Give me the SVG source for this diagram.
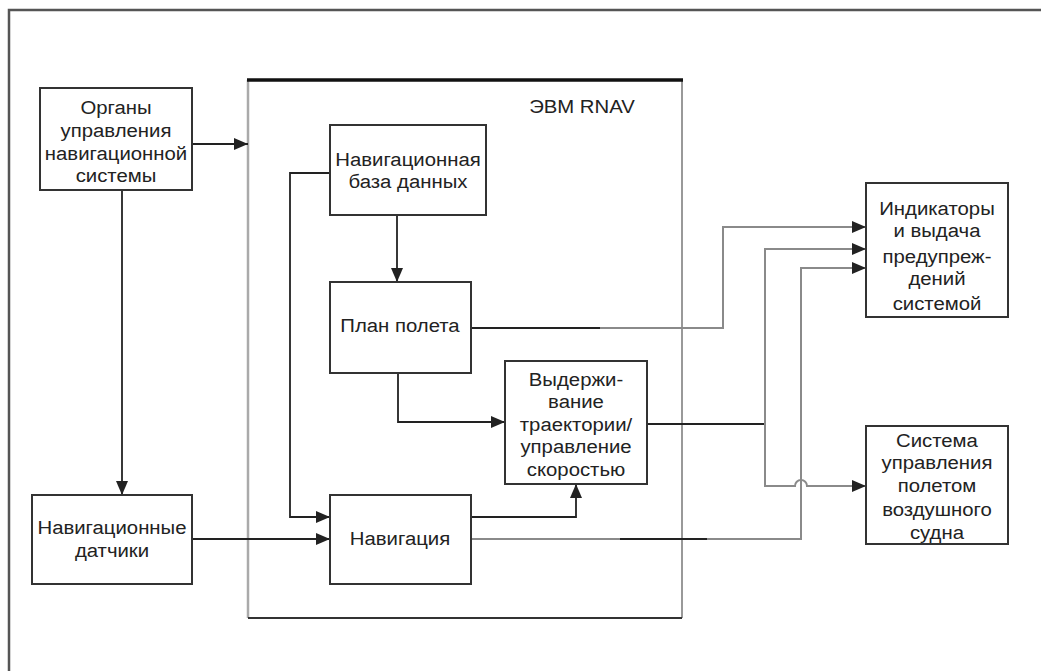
<svg xmlns="http://www.w3.org/2000/svg" width="1041" height="671" viewBox="0 0 1041 671">
<style>
  text { font-family: "Liberation Sans", Arial, sans-serif; font-size: 18px; fill: #222; text-anchor: middle; transform-box: fill-box; transform-origin: center; transform: scaleX(1.13); }
  .box { fill: #fff; stroke: #333; stroke-width: 2; }
  .ln { fill: none; stroke: #222; stroke-width: 1.8; }
  .gr { fill: none; stroke: #8a8a8a; stroke-width: 2; }
</style>
<defs>
  <marker id="ah" viewBox="0 0 14 12" refX="14" refY="6" markerWidth="14" markerHeight="12" markerUnits="userSpaceOnUse" orient="auto">
    <path d="M0,0 L14,6 L0,12 z" fill="#222"/>
  </marker>
</defs>
<rect width="1041" height="671" fill="#fff"/>
<g id="frame">
  <path d="M9,700 L9,10 L1060,10" fill="none" stroke="#555" stroke-width="2.5"/>
</g>
<g id="rnav">
  <path d="M248,618 L248,80" fill="none" stroke="#aaa" stroke-width="2.5"/>
  <path d="M682,80 L682,618" fill="none" stroke="#999" stroke-width="2"/>
  <path d="M248,618 L682,618" fill="none" stroke="#333" stroke-width="2"/>
  <path d="M247,80 L683,80" fill="none" stroke="#111" stroke-width="3.5"/>
  <text x="582" y="113">ЭВМ RNAV</text>
</g>
<g id="connectors">
  <path class="ln" d="M192,144 L248,144" marker-end="url(#ah)"/>
  <path class="ln" d="M122,190 L122,495" marker-end="url(#ah)"/>
  <path class="ln" d="M192,539 L330,539" marker-end="url(#ah)"/>
  <path class="ln" d="M330,173 L290,173 L290,517 L330,517" marker-end="url(#ah)"/>
  <path class="ln" d="M397,215 L397,282" marker-end="url(#ah)"/>
  <path class="ln" d="M398,373 L398,422 L505,422" marker-end="url(#ah)"/>
  <path class="ln" d="M471,517 L576,517 L576,484" marker-end="url(#ah)"/>
  <path class="ln" d="M471,328 L600,328"/>
  <path class="gr" d="M600,328 L723,328 L723,227 L866,227" marker-end="url(#ah)"/>
  <path class="ln" d="M647,424 L765,424"/>
  <path class="gr" d="M765,424 L765,249 L866,249" marker-end="url(#ah)"/>
  <path class="gr" d="M765,424 L765,486 L795,486 A6,6 0 0 1 807,486 L866,486" marker-end="url(#ah)"/>
  <path class="gr" d="M471,539 L620,539"/>
  <path class="ln" d="M620,539 L707,539"/>
  <path class="gr" d="M707,539 L801,539 L801,268 L866,268" marker-end="url(#ah)"/>
</g>
<g id="organy">
  <rect class="box" x="40" y="88" width="152" height="102"/>
  <text x="116" y="114">Органы</text>
  <text x="116" y="137">управления</text>
  <text x="116" y="160">навигационной</text>
  <text x="116" y="182">системы</text>
</g>
<g id="datchiki">
  <rect class="box" x="32" y="495" width="160" height="89"/>
  <text x="112" y="534">Навигационные</text>
  <text x="112" y="557">датчики</text>
</g>
<g id="navdb">
  <rect class="box" x="330" y="125" width="156" height="90"/>
  <text x="408" y="166">Навигационная</text>
  <text x="408" y="188">база данных</text>
</g>
<g id="plan">
  <rect class="box" x="330" y="282" width="141" height="91"/>
  <text x="400" y="332">План полета</text>
</g>
<g id="vyderzh">
  <rect class="box" x="505" y="361" width="142" height="123"/>
  <text x="576" y="386">Выдержи-</text>
  <text x="576" y="408">вание</text>
  <text x="576" y="431">траектории/</text>
  <text x="576" y="453">управление</text>
  <text x="576" y="476">скоростью</text>
</g>
<g id="navigacia">
  <rect class="box" x="330" y="495" width="141" height="89"/>
  <text x="400" y="545">Навигация</text>
</g>
<g id="indikatory">
  <rect class="box" x="866" y="183" width="142" height="134"/>
  <text x="937" y="215">Индикаторы</text>
  <text x="937" y="237">и выдача</text>
  <text x="937" y="263">предупреж-</text>
  <text x="937" y="285">дений</text>
  <text x="937" y="310">системой</text>
</g>
<g id="sistema">
  <rect class="box" x="866" y="426" width="142" height="118"/>
  <text x="937" y="447">Система</text>
  <text x="937" y="469">управления</text>
  <text x="937" y="492">полетом</text>
  <text x="937" y="516">воздушного</text>
  <text x="937" y="539">судна</text>
</g>
</svg>
